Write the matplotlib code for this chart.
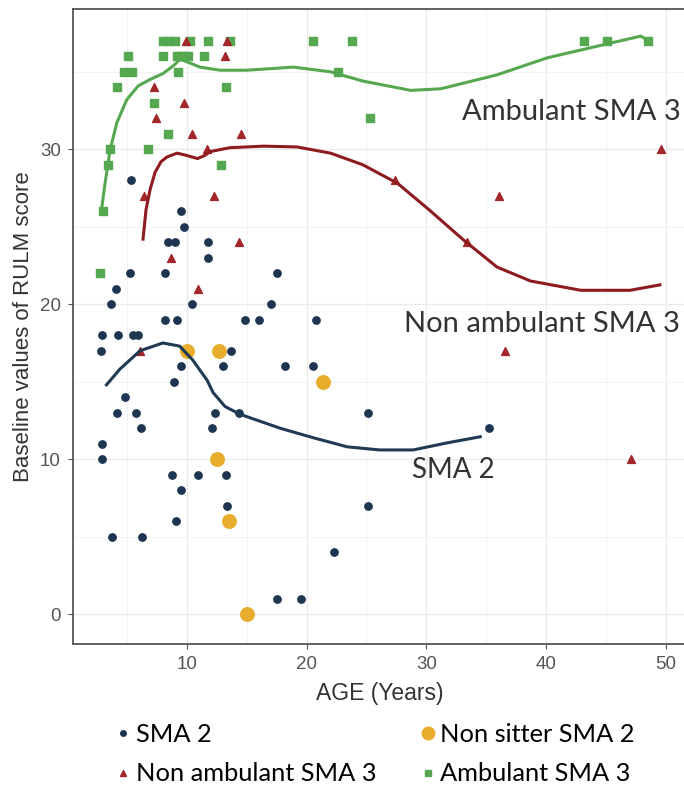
import matplotlib.pyplot as plt
from matplotlib.lines import Line2D

# Scatter data (age in years, RULM score)
sma2_age = [5.35, 9.5, 9.8, 8.4, 9.0, 11.8, 11.8, 5.3, 8.2, 17.5, 4.1, 3.7, 10.4, 17.0,
            8.2, 9.2, 14.9, 16.0, 20.8, 2.9, 4.3, 5.5, 5.9, 2.85, 13.7, 9.5, 13.0, 18.2,
            20.5, 8.9, 4.85, 4.2, 5.8, 12.4, 14.4, 25.1, 6.2, 12.1, 35.2, 2.9, 2.9, 8.8,
            10.9, 13.3, 9.5, 13.4, 25.1, 9.1, 3.8, 6.3, 22.3, 17.5, 19.5]
sma2_score = [28, 26, 25, 24, 24, 24, 23, 22, 22, 22, 21, 20, 20, 20,
              19, 19, 19, 19, 19, 18, 18, 18, 18, 17, 17, 16, 16, 16,
              16, 15, 14, 13, 13, 13, 13, 13, 12, 12, 12, 11, 10, 9,
              9, 9, 8, 7, 7, 6, 5, 5, 4, 1, 1]

nonsit_age = [10.0, 12.7, 21.4, 12.5, 13.5, 15.0]
nonsit_score = [17, 17, 15, 10, 6, 0]

nonamb_age = [9.9, 13.4, 13.2, 7.3, 9.8, 7.4, 10.4, 14.5, 11.7, 6.4, 12.3, 14.4, 8.7,
              10.9, 6.1, 49.6, 27.4, 36.1, 33.4, 36.6, 47.1]
nonamb_score = [37, 37, 36, 34, 33, 32, 31, 31, 30, 27, 27, 24, 23,
                21, 17, 30, 28, 27, 24, 17, 10]

amb_age = [8.0, 8.5, 9.0, 10.3, 11.8, 13.6, 20.5, 23.8, 43.2, 45.1, 48.5,
           5.1, 8.0, 9.2, 9.5, 9.8, 10.1, 11.4,
           4.8, 5.4, 9.3, 22.6, 4.2, 13.3, 7.3, 25.3, 8.4, 3.6, 6.8, 3.4, 12.9, 3.0, 2.75]
amb_score = [37, 37, 37, 37, 37, 37, 37, 37, 37, 37, 37,
             36, 36, 36, 36, 36, 36, 36,
             35, 35, 35, 35, 34, 34, 33, 32, 31, 30, 30, 29, 29, 26, 22]

# Smoothed trend lines
amb_fit_age = [2.9, 3.18, 3.6, 4.16, 4.99, 5.96, 6.94, 8.05, 8.9, 9.44, 10.0, 11.1, 12.8,
               15.0, 18.9, 22.0, 24.7, 28.7, 31.2, 35.9, 40.1, 45.1, 47.9, 48.7]
amb_fit_val = [26.2, 27.8, 29.95, 31.7, 33.2, 34.1, 34.5, 34.9, 35.4, 35.8, 35.65, 35.3, 35.1,
               35.1, 35.3, 35.0, 34.4, 33.8, 33.9, 34.8, 35.9, 36.8, 37.3, 36.95]

nonamb_fit_age = [6.35, 6.6, 6.94, 7.35, 7.85, 8.35, 9.2, 10.0, 10.9, 11.5, 11.95, 13.6, 16.4,
                  19.2, 22.0, 24.7, 27.6, 30.3, 33.1, 35.9, 38.7, 42.9, 47.0, 49.5]
nonamb_fit_val = [24.2, 26.1, 27.4, 28.5, 29.2, 29.5, 29.75, 29.6, 29.4, 29.6, 29.85, 30.1, 30.2,
                  30.15, 29.75, 29.0, 27.8, 26.05, 24.15, 22.4, 21.5, 20.9, 20.9, 21.25]

sma2_fit_age = [3.3, 4.4, 6.1, 8.0, 9.4, 10.5, 11.7, 12.2, 13.2, 14.45, 17.8, 20.5, 23.4,
                26.1, 28.9, 31.7, 34.5]
sma2_fit_val = [14.8, 15.8, 17.0, 17.5, 17.3, 16.4, 15.1, 14.3, 13.4, 12.9, 12.0, 11.4, 10.8,
                10.6, 10.6, 11.05, 11.45]

navy = '#1d3550'
red = '#a3262a'
green = '#55a84f'
gold = '#e8ad2c'

fig = plt.figure(figsize=(6.84, 7.89), dpi=100)
ax = fig.add_axes([0.1063, 0.1838, 0.897, 0.8044])

ax.set_xlim(0.48, 51.7)
ax.set_ylim(-1.92, 39.03)

ax.set_xticks([10, 20, 30, 40, 50])
ax.set_yticks([0, 10, 20, 30])
ax.set_xticks([5, 15, 25, 35, 45], minor=True)
ax.set_yticks([5, 15, 25, 35], minor=True)
ax.grid(True, which='major', color='#ebebeb', linewidth=1.0)
ax.grid(True, which='minor', color='#f2f2f2', linewidth=0.8)
ax.set_axisbelow(True)
ax.tick_params(which='major', length=3.5, color='#555555', labelcolor='#555555',
               labelsize=13.5, pad=5)
ax.tick_params(which='minor', length=0)
for lab in ax.get_xticklabels() + ax.get_yticklabels():
    lab.set_family('Liberation Sans')
for sp in ax.spines.values():
    sp.set_color('#555555')
    sp.set_linewidth(1.3)

ax.scatter(amb_age, amb_score, marker='s', s=30, color=green, zorder=3)
ax.scatter(nonamb_age, nonamb_score, marker='^', s=32, color=red, zorder=3)
ax.scatter(sma2_age, sma2_score, marker='o', s=28, color=navy, zorder=3)
ax.scatter(nonsit_age, nonsit_score, marker='o', s=95, color=gold, zorder=3)

ax.plot(amb_fit_age, amb_fit_val, color=green, linewidth=2.2, zorder=4)
ax.plot(nonamb_fit_age, nonamb_fit_val, color='#8e1b1f', linewidth=2.2, zorder=4)
ax.plot(sma2_fit_age, sma2_fit_val, color='#1f3a52', linewidth=2.2, zorder=4)

lab_font = 'Lato'
ax.text(51.2, 32.4, 'Ambulant SMA 3', fontsize=21, family=lab_font, color='#333333',
        ha='right', va='center')
ax.text(51.2, 18.7, 'Non ambulant SMA 3', fontsize=21, family=lab_font, color='#333333',
        ha='right', va='center')
ax.text(35.7, 9.3, 'SMA 2', fontsize=20, family=lab_font, color='#333333',
        ha='right', va='center')

ax.set_xlabel('AGE (Years)', fontsize=16.5, family='Liberation Sans', color='#333333',
              labelpad=6.5)
ax.set_ylabel('Baseline values of RULM score', fontsize=16, family='Liberation Sans',
              color='#333333', labelpad=4)

handles = [
    Line2D([], [], marker='o', linestyle='none', color=navy, markersize=4),
    Line2D([], [], marker='^', linestyle='none', color=red, markersize=5),
    Line2D([], [], marker='o', linestyle='none', color=gold, markersize=9),
    Line2D([], [], marker='s', linestyle='none', color=green, markersize=4.5),
]
labels = ['SMA 2', 'Non ambulant SMA 3', 'Non sitter SMA 2', 'Ambulant SMA 3']
fig.legend(handles, labels, loc='upper left', bbox_to_anchor=(0.1675, 0.084), ncol=2,
           frameon=False, prop={'family': lab_font, 'size': 18.3}, handletextpad=0.15,
           handlelength=0.7, columnspacing=1.65, labelspacing=0.66, borderaxespad=0,
           borderpad=0)

fig.savefig('out.png', dpi=100)
